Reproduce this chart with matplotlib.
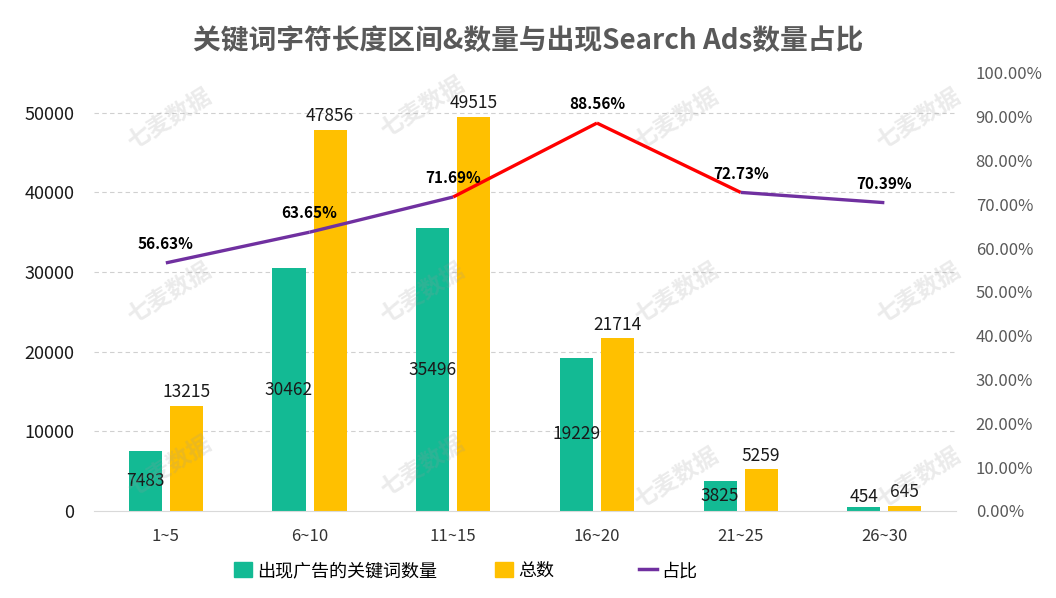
import matplotlib
matplotlib.use("Agg")
import matplotlib.pyplot as plt
from matplotlib.lines import Line2D
from matplotlib.patches import Patch
import numpy as np

plt.rcParams['font.family'] = ['Noto Sans CJK SC', 'DejaVu Sans']

categories = ["1~5", "6~10", "11~15", "16~20", "21~25", "26~30"]
ad_counts = [7483, 30462, 35496, 19229, 3825, 454]
totals = [13215, 47856, 49515, 21714, 5259, 645]
ratios = [56.63, 63.65, 71.69, 88.56, 72.73, 70.39]
left_ticks = [0, 10000, 20000, 30000, 40000, 50000]
right_ticks = [0, 10, 20, 30, 40, 50, 60, 70, 80, 90, 100]
legend_labels = ["出现广告的关键词数量", "总数", "占比"]

green = "#13BA94"
yellow = "#FFC000"
purple = "#7030A0"
red = "#FF0000"

fig = plt.figure(figsize=(10.56, 5.98), dpi=100)
ax = fig.add_axes([0.089, 0.1455, 0.8165, 0.7325])
ax2 = ax.twinx()

x = np.arange(len(categories))
w = 0.23
off = 0.143

ax.bar(x - off, ad_counts, width=w, color=green, zorder=2)
ax.bar(x + off, totals, width=w, color=yellow, zorder=2)

ax.set_ylim(0, 55000)
ax.set_xlim(-0.5, len(categories) - 0.5)
ax.set_yticks(left_ticks)
ax.set_yticklabels([str(t) for t in left_ticks], fontsize=13, color="#1a1a1a")
ax.set_xticks(x)
ax.set_xticklabels(categories, fontsize=12, color="#333333")
ax.tick_params(axis='y', length=0, pad=14)
ax.tick_params(axis='x', length=0, pad=12)
for t in left_ticks[1:]:
    ax.axhline(t, color="#d0d0d0", lw=0.8, ls=(0, (4, 3)), zorder=0)
for s in ["top", "right", "left"]:
    ax.spines[s].set_visible(False)
ax.spines["bottom"].set_color("#d9d9d9")

for xi, v in zip(x, totals):
    ax.text(xi + off, v + 1700, str(v), ha='center', va='center', fontsize=12.5, color="#1a1a1a", zorder=5)
for xi, v in zip(x, ad_counts):
    ax.text(xi - off, max(v / 2, 1750), str(v), ha='center', va='center', fontsize=12.5, color="#1a1a1a", zorder=5)

# ratio line on secondary axis
ax2.set_ylim(0, 100)
ax2.set_yticks(right_ticks)
ax2.set_yticklabels([f"{t:.2f}%" for t in right_ticks], fontsize=12, color="#595959")
ax2.tick_params(axis='y', length=0, pad=14)
for s in ["top", "right", "left", "bottom"]:
    ax2.spines[s].set_visible(False)

seg_colors = [purple, purple, red, red, purple]
for i in range(len(categories) - 1):
    ax2.plot(x[i:i + 2], ratios[i:i + 2], color=seg_colors[i], lw=2.4, solid_capstyle='butt', zorder=4)
for xi, r in zip(x, ratios):
    ax2.text(xi, r + 4.3, f"{r:.2f}%", ha='center', va='center', fontsize=11, fontweight='bold', color="#000000", zorder=6)

# watermarks
wm_pos = [(0.16, 0.80), (0.40, 0.82), (0.64, 0.80), (0.87, 0.80),
          (0.16, 0.51), (0.40, 0.51), (0.64, 0.51), (0.87, 0.51),
          (0.16, 0.22), (0.40, 0.22), (0.64, 0.20), (0.87, 0.20)]
for px, py in wm_pos:
    fig.text(px, py, "七麦数据", rotation=32, fontsize=17, color="#9a9a9a", alpha=0.2,
             ha='center', va='center', fontweight='bold', zorder=0)

fig.suptitle("关键词字符长度区间&数量与出现Search Ads数量占比", x=0.5, y=0.955,
             fontsize=20, fontweight='bold', color="#595959")

handles = [Patch(color=green), Patch(color=yellow), Line2D([0], [0], color=purple, lw=2.5)]
leg_x = [0.222, 0.469, 0.605]
for h, lab, lx in zip(handles, legend_labels, leg_x):
    lg = fig.legend([h], [lab], loc='center left', bbox_to_anchor=(lx, 0.045), frameon=False,
                    fontsize=13, handlelength=1.0, handletextpad=0.25, handleheight=0.9,
                    borderpad=0, borderaxespad=0)

fig.savefig("out.png", dpi=100)
